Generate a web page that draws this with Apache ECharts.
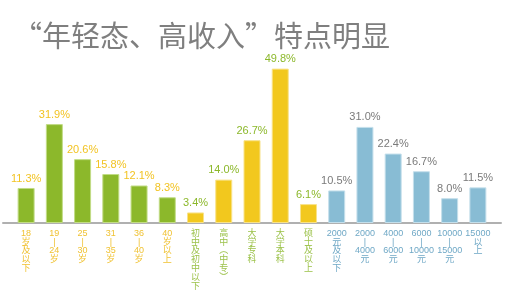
<!DOCTYPE html>
<html>
<head>
<meta charset="utf-8">
<style>
html,body{margin:0;padding:0;background:#fff;}
#chart{width:505px;height:300px;}
</style>
<script src="https://cdn.jsdelivr.net/npm/echarts@6/dist/echarts.min.js"></script>
</head>
<body>
<div id="chart"></div>
<script>
// Tick labels (each inner array = vertical lines of the label)
var ageLabels = [["18","岁","及","以","下"],["19","|","24","岁"],["25","|","30","岁"],["31","|","35","岁"],["36","|","40","岁"],["40","岁","以","上"]];
var eduLabels = [["初","中","及","初","中","以","下"],["高","中","︵","中","专","︶"],["大","学","专","科"],["大","学","本","科"],["硕","士","及","以","上"]];
var incomeLabels = [["2000","元","及","以","下"],["2000","|","4000","元"],["4000","|","6000","元"],["6000","|","10000","元"],["10000","|","15000","元"],["15000","以","上"]];

// Values (%)
var ageValues = [11.3, 31.9, 20.6, 15.8, 12.1, 8.3];
var eduValues = [3.4, 14.0, 26.7, 49.8, 6.1];
var incomeValues = [10.5, 31.0, 22.4, 16.7, 8.0, 11.5];

var groups = [
  {labels: ageLabels, values: ageValues, bar: '#8cb82b', border: '#c2dc86', valueColor: '#f2c322', tickColor: '#f0c232'},
  {labels: eduLabels, values: eduValues, bar: '#f2c81e', border: '#f8e28a', valueColor: '#8cb82b', tickColor: '#9cc24a'},
  {labels: incomeLabels, values: incomeValues, bar: '#88bcd4', border: '#c4dfeb', valueColor: '#7a7a7a', tickColor: '#6fa8c6'}
];

var cats = [], barData = [];
groups.forEach(function(g){
  g.labels.forEach(function(l, i){
    cats.push({value: l.join('\n'), textStyle: {color: g.tickColor}});
    barData.push({
      value: g.values[i],
      itemStyle: {color: g.bar, borderColor: g.border, borderWidth: 1},
      label: {color: g.valueColor}
    });
  });
});

var chart = echarts.init(document.getElementById('chart'), null, {renderer: 'canvas'});
chart.setOption({
  animation: false,
  backgroundColor: '#ffffff',
  title: {
    text: '“年轻态、高收入”特点明显',
    left: 8, top: 16,
    textStyle: {fontFamily: 'Noto Sans CJK SC', fontSize: 29, fontWeight: 'normal', color: '#7f7f7f'}
  },
  grid: [
    {left: 12, right: 13, top: 37, bottom: 77},
    {left: 3, right: 4, top: 37, bottom: 77}
  ],
  xAxis: [
    {
      type: 'category', gridIndex: 0, data: cats,
      axisLine: {show: false}, axisTick: {show: false},
      axisLabel: {interval: 0, margin: 6, fontSize: 9, lineHeight: 8.8, fontFamily: 'Liberation Sans, Noto Sans CJK SC', verticalAlign: 'top'}
    },
    {
      type: 'value', gridIndex: 1, min: 0, max: 1,
      axisLine: {show: true, lineStyle: {color: '#b0b0b0', width: 2}},
      axisTick: {show: false}, axisLabel: {show: false}, splitLine: {show: false}
    }
  ],
  yAxis: [
    {type: 'value', gridIndex: 0, min: 0, max: 60, show: false},
    {type: 'value', gridIndex: 1, min: 0, max: 60, show: false}
  ],
  series: [{
    type: 'bar', xAxisIndex: 0, yAxisIndex: 0,
    barWidth: 17, data: barData, z: 3,
    label: {
      show: true, position: 'top', distance: 4,
      fontSize: 11, fontFamily: 'Liberation Sans',
      formatter: function(p){ return p.value.toFixed(1) + '%'; }
    }
  }]
});
</script>
</body>
</html>
